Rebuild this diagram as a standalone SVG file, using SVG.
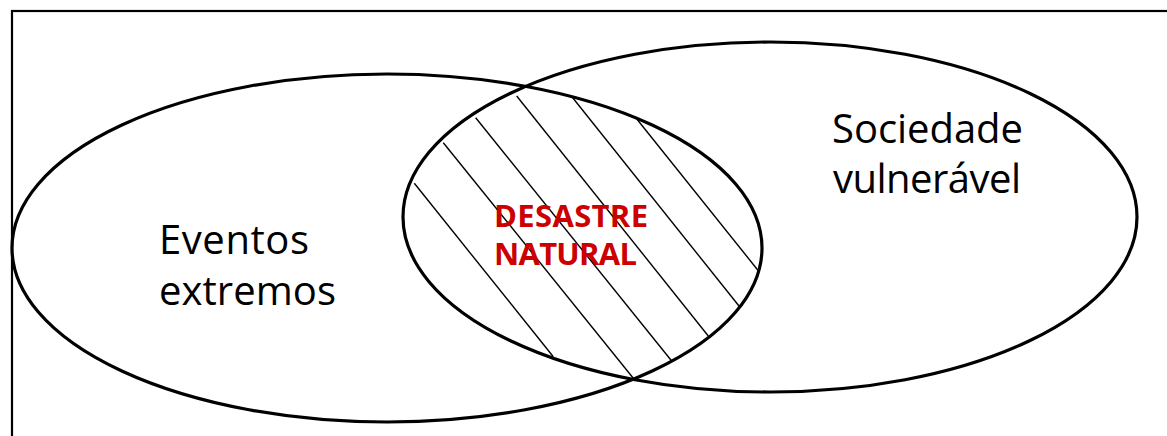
<svg xmlns="http://www.w3.org/2000/svg" width="1167" height="436" viewBox="0 0 1167 436">
<style>
.ell{fill:none;stroke:#000;stroke-width:3.2}
.hatch{stroke:#000;stroke-width:1.4;fill:none}
.lbl{font-family:"Open Sans","Noto Sans",sans-serif;font-size:40px;fill:#000}
.red{font-family:"Open Sans","Noto Sans",sans-serif;font-size:31px;font-weight:bold;fill:#CC0000}
</style>
<rect x="12" y="11" width="1170" height="440" fill="#fff" stroke="#000" stroke-width="2.2"/>
<g id="connectors">
<g class="hatch">
<line x1="414.3" y1="183.3" x2="553.3" y2="356.7"/>
<line x1="443.3" y1="142.7" x2="633.3" y2="378.3"/>
<line x1="475.7" y1="117.7" x2="671.7" y2="361"/>
<line x1="516.7" y1="96" x2="708.3" y2="336"/>
<line x1="572.3" y1="97.3" x2="739" y2="306"/>
<line x1="635" y1="116.7" x2="758.3" y2="270.7"/>
</g>
</g>
<g id="eventos">
<ellipse class="ell" cx="387" cy="248" rx="375" ry="174"/>
<text class="lbl" x="159" y="254" textLength="150">Eventos</text>
<text class="lbl" x="159" y="305" textLength="177">extremos</text>
</g>
<g id="sociedade">
<ellipse class="ell" cx="770" cy="217" rx="367" ry="175"/>
<text class="lbl" x="832" y="142.5" textLength="191">Sociedade</text>
<text class="lbl" x="833" y="193" textLength="188">vulnerável</text>
</g>
<g id="desastre">
<text class="red" x="494" y="226.5" textLength="154">DESASTRE</text>
<text class="red" x="494" y="265" textLength="143">NATURAL</text>
</g>
</svg>
